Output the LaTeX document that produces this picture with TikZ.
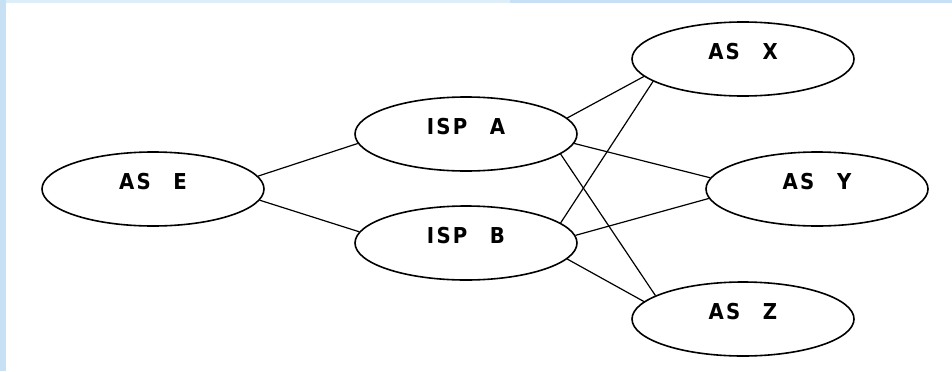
\documentclass[tikz,border=0pt]{standalone}
\usepackage{fontspec}
\usetikzlibrary{positioning,shapes.geometric}
\newfontfamily\pixfont[LetterSpace=10,WordSpace=2.5]{DejaVu Sans Condensed}
\definecolor{bgBlue}{RGB}{200,224,243}
\definecolor{bgPale}{RGB}{222,238,249}
\tikzset{
    base/.style={font=\pixfont\bfseries\fontsize{22}{24}\selectfont, align=center},
    peer/.style={base, ellipse, draw=black, line width=1.6bp, fill=white,
                 minimum width=222bp, minimum height=74bp, inner sep=0pt,
                 text height=16bp, text depth=15bp},
    link/.style={line width=1.2bp, color=black}
}
\begin{document}
\begin{tikzpicture}[x=1bp, y=1bp, node distance=313bp]
  % page edge strips
  \fill[bgBlue] (-153,-182) rectangle (-147,189);
  \fill[bgPale] (-147,186) rectangle (357,189);
  \fill[bgBlue] (357,186) rectangle (799,189);
  \useasboundingbox (-153,-182) rectangle (799,189);

  % customer AS and its two providers
  \node[peer] (E) {AS E};
  \node[peer, right of=E, yshift=55bp] (A) {ISP A};
  \node[peer, node distance=109bp, below of=A] (B) {ISP B};

  % remote ASes
  \node[peer, node distance=277bp, right of=A, yshift=75bp] (X) {AS X};
  \node[peer, node distance=664bp, right of=E] (Y) {AS Y};
  \node[peer, node distance=277bp, right of=B, yshift=-76bp] (Z) {AS Z};

  % links
  \draw[link] (E.7) -- (A.185);
  \draw[link] (E.-6) -- (B.174);
  \draw[link] (A.9) -- (X.190);
  \draw[link] (A.-5) -- (Y.174);
  \draw[link] (A.-12) -- (Z.165);
  \draw[link] (B.12) -- (X.194);
  \draw[link] (B.4) -- (Y.185);
  \draw[link] (B.-9) -- (Z.170);
\end{tikzpicture}
\end{document}
